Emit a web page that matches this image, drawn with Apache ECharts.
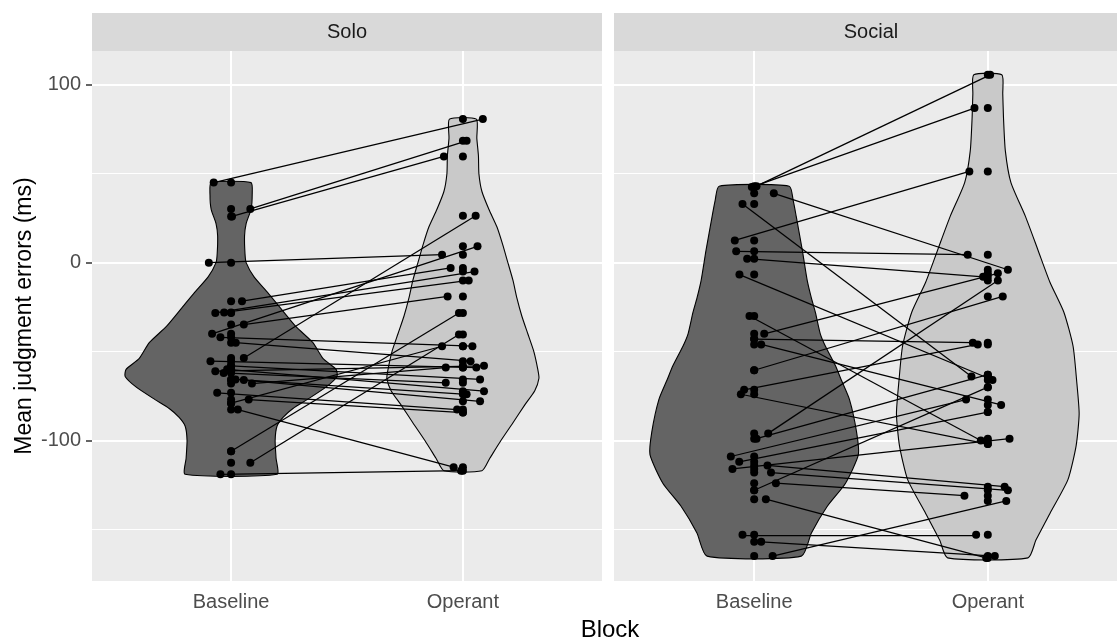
<!DOCTYPE html>
<html><head><meta charset="utf-8">
<script src="https://cdn.jsdelivr.net/npm/echarts@6/dist/echarts.min.js"></script>
<style>html,body{margin:0;padding:0;background:#fff}#c{width:1117px;height:641px}</style>
</head><body><div id="c"></div>
<script>
// ---------- data ----------
const panels = ['Solo', 'Social'];
const blocks = ['Baseline', 'Operant'];
const yMajorTicks = [-100, 0, 100];
const yMinorTicks = [-150, -50, 50];
const xTicks = [1, 2];

// Solo: paired subjects (baseline value, jitter; operant value, jitter)
const soloBaseline = [45, 30.2, 26, 0, -21.7, -28.3, -28, -34.8, -40, -42, -45, -53.6, -55.4, -58, -60, -61, -62, -65.7, -66, -68, -73.2, -77, -79, -82.6, -106, -112.5, -119];
const soloBaselineJitter = [-0.075, 0.083, 0.004, -0.096, 0.047, -0.068, -0.03, 0.055, -0.082, -0.046, 0.02, 0.055, -0.089, 0, -0.017, -0.068, -0.032, 0.019, 0.055, 0.09, -0.06, 0.076, 0, 0.029, 0, 0.083, -0.046];
const soloOperant = [80.7, 68.5, 59.7, 4.5, -3, -5, -10, -19, 9.2, -47, -55.4, 26.4, -59, -65.7, -72.3, -58, -67.6, -74, -78, -59, -82.6, -84.3, -47, -115, -28.3, -40.4, -117];
const soloOperantJitter = [0.086, 0.016, -0.082, -0.09, -0.053, 0.05, 0.025, -0.066, 0.063, 0.041, 0.033, 0.055, 0.058, 0.074, 0.091, 0.091, -0.074, 0.016, 0.074, -0.074, -0.025, 0, -0.09, -0.04, -0.017, -0.017, -0.008];

// Social
const socialBaseline = [43, 42.5, 39, 33, 12.5, 6.4, 2.2, -6.7, -30, -40, -43, -46, -60.5, -71.5, -74, -96, -99, -109, -112, -114, -116, -118, -124, -128, -133, -153, -157, -165];
const socialBaselineJitter = [0.01, -0.01, 0.084, -0.05, -0.083, -0.077, -0.03, -0.063, -0.02, 0.043, 0, 0.03, 0, -0.043, -0.057, 0.06, 0.01, -0.1, -0.064, 0.057, -0.093, 0.072, 0.093, 0, 0.05, -0.05, 0.03, 0.079];
const socialOperant = [105.6, 86.9, -4, -64, 51.3, 4.5, -8, -66, -100, -6, -45, -80, -19, -46, -102, -10, -63, -77, -84, -126, -99, -128, -131, -70, -166, -153, -165, -134];
const socialOperantJitter = [0.01, -0.057, 0.086, -0.07, -0.079, -0.086, -0.02, 0.02, -0.03, 0.043, -0.064, 0.057, 0.064, -0.043, 0, 0.043, 0, -0.093, 0, 0.072, 0.093, 0.086, -0.1, 0, -0.007, -0.05, 0.03, 0.079];

// Violin outlines: y levels and half-widths (x units)
const soloBaseViolinY = [45, 38, 30, 22, 15, 5, 0, -8, -17, -26, -36, -45, -54, -60, -64, -70, -77, -82, -87, -92, -100, -110, -119];
const soloBaseViolinW = [0.086, 0.091, 0.086, 0.065, 0.058, 0.06, 0.065, 0.099, 0.159, 0.216, 0.28, 0.353, 0.397, 0.453, 0.457, 0.409, 0.328, 0.267, 0.224, 0.198, 0.19, 0.194, 0.198];
const soloOpViolinY = [80.7, 70, 60, 50, 40, 30, 20, 10, 0, -10, -20, -30, -40, -50, -60, -65, -72, -80, -90, -100, -110, -117];
const soloOpViolinW = [0.058, 0.06, 0.067, 0.069, 0.082, 0.112, 0.147, 0.172, 0.194, 0.216, 0.233, 0.254, 0.28, 0.306, 0.323, 0.328, 0.31, 0.267, 0.216, 0.164, 0.116, 0.082];
const socialBaseViolinY = [43, 35, 26, 7, -10, -20, -28, -40, -47, -58, -66, -77, -95, -108, -124, -137, -152, -165];
const socialBaseViolinW = [0.15, 0.167, 0.18, 0.206, 0.227, 0.245, 0.262, 0.283, 0.305, 0.348, 0.373, 0.408, 0.438, 0.446, 0.391, 0.313, 0.245, 0.202];
const socialOpViolinY = [105.6, 95, 82, 63, 45, 26, 7, -11, -28, -47, -66, -85, -103, -122, -141, -156, -166];
const socialOpViolinW = [0.06, 0.064, 0.067, 0.075, 0.099, 0.161, 0.215, 0.266, 0.326, 0.365, 0.38, 0.391, 0.378, 0.343, 0.266, 0.206, 0.172];

// ---------- build ----------
const FONT = "'Liberation Sans', Arial, sans-serif";
const panelData = [
  {b: soloBaseline, bj: soloBaselineJitter, o: soloOperant, oj: soloOperantJitter,
   v: [[soloBaseViolinY, soloBaseViolinW], [soloOpViolinY, soloOpViolinW]]},
  {b: socialBaseline, bj: socialBaselineJitter, o: socialOperant, oj: socialOperantJitter,
   v: [[socialBaseViolinY, socialBaseViolinW], [socialOpViolinY, socialOpViolinW]]}
];
const violinFill = ['#646464', '#c9c9c9'];
// right facet is cut off by the picture edge
const xMax = [2.6, 2.553];

const grids = [
  {left: 92, top: 51, width: 510, height: 530},
  {left: 614, top: 51, width: 503, height: 530}
].map(g => Object.assign(g, {show: true, backgroundColor: '#ebebeb', borderWidth: 0, containLabel: false}));

const xAxes = [], yAxes = [], series = [];
panelData.forEach((p, gi) => {
  xAxes.push({
    type: 'value', gridIndex: gi, min: 0.4, max: xMax[gi],
    axisLine: {show: false},
    axisTick: {show: true, length: 6, customValues: xTicks, lineStyle: {color: '#333333', width: 1.5}},
    axisLabel: {show: true, customValues: xTicks, margin: 11, color: '#4d4d4d', fontSize: 20, fontFamily: FONT,
      formatter: v => blocks[Math.round(v) - 1] || ''},
    splitLine: {show: false}
  });
  yAxes.push({
    type: 'value', gridIndex: gi, min: -179, max: 119,
    axisLine: {show: false},
    axisTick: {show: gi === 0, length: 6, customValues: yMajorTicks, lineStyle: {color: '#333333', width: 1.5}},
    axisLabel: {show: gi === 0, customValues: yMajorTicks, margin: 11, color: '#4d4d4d', fontSize: 20, fontFamily: FONT,
      formatter: v => String(v)},
    splitLine: {show: false}
  });

  // grid lines
  series.push({
    type: 'scatter', xAxisIndex: gi, yAxisIndex: gi, data: [], silent: true, z: 1,
    markLine: {
      silent: true, symbol: 'none', animation: false, z: 1,
      label: {show: false},
      data: [
        ...yMinorTicks.map(v => ({yAxis: v, lineStyle: {color: '#ffffff', width: 1, type: 'solid'}})),
        ...yMajorTicks.map(v => ({yAxis: v, lineStyle: {color: '#ffffff', width: 2, type: 'solid'}})),
        ...xTicks.map(v => ({xAxis: v, lineStyle: {color: '#ffffff', width: 2, type: 'solid'}}))
      ]
    }
  });

  // violins
  p.v.forEach((vv, k) => {
    const ys = vv[0], ws = vv[1], center = xTicks[k];
    series.push({
      type: 'custom', xAxisIndex: gi, yAxisIndex: gi, z: 2, silent: true, animation: false,
      data: [[center, ys[0]]],
      renderItem: function (params, api) {
        const pts = [];
        for (let i = 0; i < ys.length; i++) pts.push(api.coord([center + ws[i], ys[i]]));
        for (let i = ys.length - 1; i >= 0; i--) pts.push(api.coord([center - ws[i], ys[i]]));
        return {type: 'polygon', shape: {points: pts, smooth: 0.2},
          style: {fill: violinFill[k], stroke: '#000000', lineWidth: 1.1}};
      }
    });
  });

  // connecting lines between jittered points
  series.push({
    type: 'lines', coordinateSystem: 'cartesian2d', xAxisIndex: gi, yAxisIndex: gi, z: 3, silent: true,
    animation: false,
    lineStyle: {color: '#000000', width: 1.25, opacity: 1, curveness: 0},
    data: p.b.map((bv, i) => ({coords: [[1 + p.bj[i], bv], [2 + p.oj[i], p.o[i]]]}))
  });

  // points: raw and jittered
  const pts = [];
  p.b.forEach((bv, i) => { pts.push([1, bv]); pts.push([1 + p.bj[i], bv]); });
  p.o.forEach((ov, i) => { pts.push([2, ov]); pts.push([2 + p.oj[i], ov]); });
  series.push({
    type: 'scatter', xAxisIndex: gi, yAxisIndex: gi, z: 4, silent: true, animation: false,
    symbol: 'circle', symbolSize: 8, itemStyle: {color: '#000000', opacity: 1},
    data: pts
  });
});

const graphics = [
  {type: 'rect', shape: {x: 92, y: 13, width: 510, height: 38}, style: {fill: '#d9d9d9'}, silent: true},
  {type: 'rect', shape: {x: 614, y: 13, width: 514, height: 38}, style: {fill: '#d9d9d9'}, silent: true},
  {type: 'text', x: 347, y: 32, style: {text: panels[0], fill: '#1a1a1a', fontSize: 20, fontFamily: FONT, align: 'center', verticalAlign: 'middle'}},
  {type: 'text', x: 871, y: 32, style: {text: panels[1], fill: '#1a1a1a', fontSize: 20, fontFamily: FONT, align: 'center', verticalAlign: 'middle'}},
  {type: 'text', x: 610, y: 630, style: {text: 'Block', fill: '#000000', fontSize: 24, fontFamily: FONT, align: 'center', verticalAlign: 'middle'}},
  {type: 'text', x: 25, y: 316, rotation: Math.PI / 2, style: {text: 'Mean judgment errors (ms)', fill: '#000000', fontSize: 23, fontFamily: FONT, align: 'center', verticalAlign: 'middle'}}
];

const chart = echarts.init(document.getElementById('c'), null, {renderer: 'canvas'});
chart.setOption({
  animation: false,
  backgroundColor: '#ffffff',
  grid: grids,
  xAxis: xAxes,
  yAxis: yAxes,
  series: series,
  graphic: graphics
});
</script>
</body></html>
